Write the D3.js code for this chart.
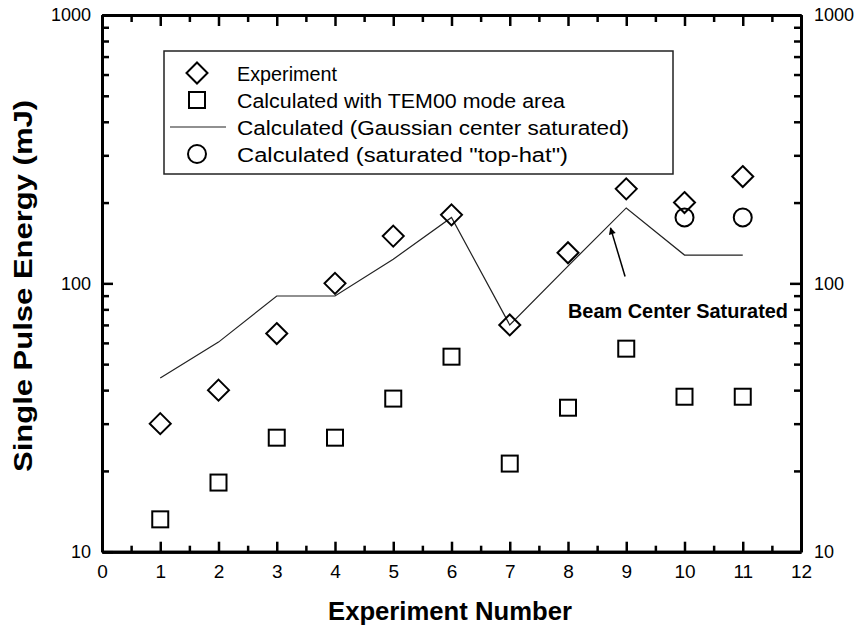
<!DOCTYPE html>
<html>
<head>
<meta charset="utf-8">
<script src="https://cdn.jsdelivr.net/npm/d3@7/dist/d3.min.js"></script>
<style>
  html, body { margin: 0; padding: 0; background: #fff; }
  svg { display: block; font-family: "Liberation Sans", Arial, sans-serif; }
</style>
</head>
<body>
<svg id="chart" width="855" height="631"></svg>
<script>
/* --- Data --- */
const EXP_NUM     = [1, 2, 3, 4, 5, 6, 7, 8, 9, 10, 11];
const EXPERIMENT  = [30, 40, 65, 100, 150, 180, 70, 130, 225, 200, 250];
const TEM00       = [13.2, 18.1, 26.6, 26.6, 37.2, 53.3, 21.3, 34.4, 57.1, 37.8, 37.8];
const GAUSSIAN    = [44.4, 60.4, 89.7, 89.7, 123, 176, 70, 116, 191, 127.5, 127.5];
const TOPHAT_NUM  = [10, 11];
const TOPHAT      = [176, 176];

const X_TICKS       = [0, 1, 2, 3, 4, 5, 6, 7, 8, 9, 10, 11, 12];
const X_MINOR_TICKS = [0.5, 1.5, 2.5, 3.5, 4.5, 5.5, 6.5, 7.5, 8.5, 9.5, 10.5, 11.5];
const Y_TICKS       = [10, 100, 1000];
const Y_MINOR_TICKS = [20, 30, 40, 50, 60, 70, 80, 90, 200, 300, 400, 500, 600, 700, 800, 900];

const LEGEND_LABELS = [
  "Experiment",
  "Calculated with TEM00 mode area",
  "Calculated (Gaussian center saturated)",
  "Calculated (saturated \"top-hat\")"
];

// annotation, in data units: text start, arrow tail, arrow tip
const NOTE_TEXT = "Beam Center Saturated";
const NOTE_POS  = { x: 8.0, y: 74 };
const ARROW     = { from: { x: 8.98, y: 106 }, to: { x: 8.73, y: 161 } };

/* --- Setup --- */
const svg = d3.select("#chart");
const INK = "#000";

const x = d3.scaleLinear().domain([0, 12]).range([102, 801]);
const y = d3.scaleLog().domain([10, 1000]).range([551.7, 15]);

function styleAxis(size) {
  return g => {
    g.select(".domain").attr("stroke", INK).attr("stroke-width", 3);
    g.selectAll(".tick line").attr("stroke", INK).attr("stroke-width", 2.5);
    g.selectAll(".tick text").attr("fill", INK).attr("font-size", size)
      .attr("font-family", "\"Liberation Sans\", Arial, sans-serif");
  };
}

// --- Axes (ticks inward, like the original plot) ---
const noLabel = () => "";

// bottom
svg.append("g").attr("transform", `translate(0,${y(10)})`)
  .call(d3.axisBottom(x).tickValues(X_MINOR_TICKS).tickFormat(noLabel).tickSize(-6).tickSizeOuter(0))
  .call(styleAxis("19px"));
svg.append("g").attr("transform", `translate(0,${y(10)})`)
  .call(d3.axisBottom(x).tickValues(X_TICKS).tickFormat(d3.format("d"))
    .tickSize(-10).tickSizeOuter(0).tickPadding(13))
  .call(styleAxis("19px"));

// top
svg.append("g").attr("transform", `translate(0,${y(1000)})`)
  .call(d3.axisTop(x).tickValues(X_MINOR_TICKS).tickFormat(noLabel).tickSize(-7).tickSizeOuter(0))
  .call(styleAxis("19px"));
svg.append("g").attr("transform", `translate(0,${y(1000)})`)
  .call(d3.axisTop(x).tickValues(X_TICKS).tickFormat(noLabel).tickSize(-11).tickSizeOuter(0))
  .call(styleAxis("19px"));

// left
svg.append("g").attr("transform", `translate(${x(0)},0)`)
  .call(d3.axisLeft(y).tickValues(Y_MINOR_TICKS).tickFormat(noLabel).tickSize(-7).tickSizeOuter(0))
  .call(styleAxis("18px"));
svg.append("g").attr("transform", `translate(${x(0)},0)`)
  .call(d3.axisLeft(y).tickValues(Y_TICKS).tickFormat(d3.format("d"))
    .tickSize(-11).tickSizeOuter(0).tickPadding(11))
  .call(styleAxis("18px"));

// right
svg.append("g").attr("transform", `translate(${x(12)},0)`)
  .call(d3.axisRight(y).tickValues(Y_MINOR_TICKS).tickFormat(noLabel).tickSize(-7).tickSizeOuter(0))
  .call(styleAxis("18px"));
svg.append("g").attr("transform", `translate(${x(12)},0)`)
  .call(d3.axisRight(y).tickValues(Y_TICKS).tickFormat(d3.format("d"))
    .tickSize(-11).tickSizeOuter(0).tickPadding(13))
  .call(styleAxis("18px"));

// --- Axis titles ---
svg.append("text")
  .attr("x", 450).attr("y", 620)
  .attr("text-anchor", "middle")
  .attr("font-size", "26px").attr("font-weight", "700")
  .attr("textLength", 244).attr("lengthAdjust", "spacingAndGlyphs")
  .text("Experiment Number");

svg.append("text")
  .attr("transform", "translate(32,286) rotate(-90)")
  .attr("text-anchor", "middle")
  .attr("font-size", "26px").attr("font-weight", "700")
  .attr("textLength", 372).attr("lengthAdjust", "spacingAndGlyphs")
  .text("Single Pulse Energy (mJ)");

// --- Symbols ---
const diamondPath = r => `M0,${-r}L${r},0L0,${r}L${-r},0Z`;

const rows = EXP_NUM.map((n, i) => ({ n, exp: EXPERIMENT[i], tem: TEM00[i], gauss: GAUSSIAN[i] }));

// Gaussian center saturated line
svg.append("path")
  .datum(rows)
  .attr("d", d3.line().x(d => x(d.n)).y(d => y(d.gauss)))
  .attr("fill", "none").attr("stroke", "#222").attr("stroke-width", 1.2);

// TEM00 squares
svg.append("g").selectAll("rect")
  .data(rows).join("rect")
  .attr("x", d => x(d.n) - 8).attr("y", d => y(d.tem) - 8)
  .attr("width", 16).attr("height", 16)
  .attr("fill", "none").attr("stroke", INK).attr("stroke-width", 2);

// Top-hat circles
svg.append("g").selectAll("circle")
  .data(TOPHAT_NUM.map((n, i) => ({ n, v: TOPHAT[i] }))).join("circle")
  .attr("cx", d => x(d.n)).attr("cy", d => y(d.v)).attr("r", 9)
  .attr("fill", "none").attr("stroke", INK).attr("stroke-width", 2);

// Experiment diamonds
svg.append("g").selectAll("path")
  .data(rows).join("path")
  .attr("transform", d => `translate(${x(d.n)},${y(d.exp)})`)
  .attr("d", diamondPath(10.5))
  .attr("fill", "none").attr("stroke", INK).attr("stroke-width", 2);

// --- Annotation ---
const defs = svg.append("defs");
defs.append("marker").attr("id", "arrowHead")
  .attr("viewBox", "0 0 10 10").attr("refX", 9).attr("refY", 5)
  .attr("markerWidth", 13).attr("markerHeight", 7).attr("markerUnits", "userSpaceOnUse")
  .attr("orient", "auto")
  .append("path").attr("d", "M 0 0 L 10 5 L 0 10 z").attr("fill", INK);

svg.append("line")
  .attr("x1", x(ARROW.from.x)).attr("y1", y(ARROW.from.y))
  .attr("x2", x(ARROW.to.x)).attr("y2", y(ARROW.to.y))
  .attr("stroke", INK).attr("stroke-width", 1.5)
  .attr("marker-end", "url(#arrowHead)");

svg.append("text")
  .attr("x", x(NOTE_POS.x)).attr("y", y(NOTE_POS.y))
  .attr("font-size", "21px").attr("font-weight", "700")
  .attr("textLength", 220).attr("lengthAdjust", "spacingAndGlyphs")
  .text(NOTE_TEXT);

// --- Legend ---
const LEG = { x: 164, y: 51, w: 509, h: 123, rowY: 73, rowGap: 27, symX: 197, textX: 237 };
const LEGEND_WIDTHS = [100, 328, 392, 331];

const leg = svg.append("g");
leg.append("rect")
  .attr("x", LEG.x).attr("y", LEG.y).attr("width", LEG.w).attr("height", LEG.h)
  .attr("fill", "#fff").attr("stroke", "#222").attr("stroke-width", 1.5);

LEGEND_LABELS.forEach((label, i) => {
  const cy = LEG.rowY + i * LEG.rowGap;
  if (i === 0) {
    leg.append("path").attr("transform", `translate(${LEG.symX},${cy})`)
      .attr("d", diamondPath(10.5)).attr("fill", "none").attr("stroke", INK).attr("stroke-width", 2);
  } else if (i === 1) {
    leg.append("rect").attr("x", LEG.symX - 8).attr("y", cy - 8).attr("width", 16).attr("height", 16)
      .attr("fill", "none").attr("stroke", INK).attr("stroke-width", 2);
  } else if (i === 2) {
    leg.append("line").attr("x1", 170).attr("x2", 226).attr("y1", cy).attr("y2", cy)
      .attr("stroke", "#222").attr("stroke-width", 1.2);
  } else {
    leg.append("circle").attr("cx", LEG.symX).attr("cy", cy).attr("r", 9)
      .attr("fill", "none").attr("stroke", INK).attr("stroke-width", 2);
  }
  leg.append("text")
    .attr("x", LEG.textX).attr("y", cy + 7.5)
    .attr("font-size", "20px")
    .attr("textLength", LEGEND_WIDTHS[i]).attr("lengthAdjust", "spacingAndGlyphs")
    .text(label);
});
</script>
</body>
</html>
